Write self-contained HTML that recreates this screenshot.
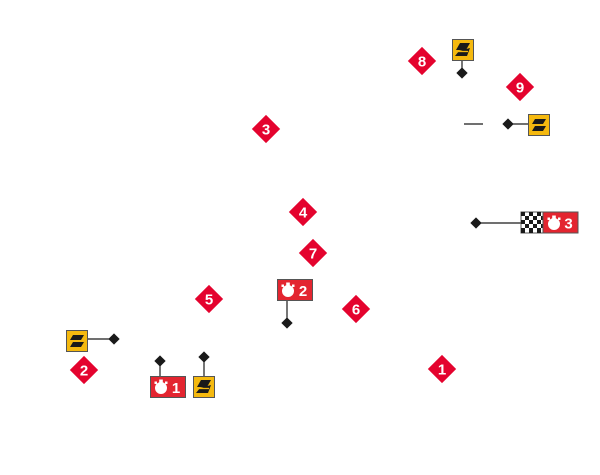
<!DOCTYPE html>
<html><head><meta charset="utf-8"><style>
html,body{margin:0;padding:0;background:#fff;}
svg{display:block}
text{font-family:"Liberation Sans",Arial,sans-serif;font-weight:bold;}
</style></head><body>
<svg width="600" height="475" viewBox="0 0 600 475" xmlns="http://www.w3.org/2000/svg">
<defs>
  <g id="rd">
    <rect x="-10" y="-10" width="20" height="20" fill="#e4032e" transform="rotate(45)"/>
  </g>
  <g id="bd">
    <rect x="-4" y="-4" width="8" height="8" fill="#1a1a1a" transform="rotate(45)"/>
  </g>
  <g id="yA">
    <rect x="0.5" y="0.5" width="21" height="21" fill="#f5b90f" stroke="#555" stroke-width="1"/>
    <polygon points="7,5 18,5 15,10 4,10" fill="#1a1a1a"/>
    <polygon points="7,12 18,12 15,17 4,17" fill="#1a1a1a"/>
  </g>
  <g id="yB">
    <rect x="0.5" y="0.5" width="21" height="21" fill="#f5b90f" stroke="#555" stroke-width="1"/>
    <polygon points="8,4 18,4 14,11 4,11" fill="#1a1a1a"/>
    <polygon points="7,12 18,9 15,17 3,17" fill="#1a1a1a"/>
    <line x1="5" y1="12.5" x2="16" y2="12.5" stroke="#f5b90f" stroke-width="1.3"/>
  </g>
  <g id="sw">
    <circle cx="0" cy="1.5" r="6" fill="#fff"/>
    <rect x="-1.8" y="-7" width="3.6" height="3" fill="#fff"/>
    <rect x="-6.5" y="-5" width="2.5" height="2.5" fill="#fff"/>
    <rect x="4" y="-5" width="2.5" height="2.5" fill="#fff"/>
  </g>
</defs>

<g stroke="#1a1a1a" stroke-width="1.2">
  <line x1="462" y1="61" x2="462" y2="73"/>
  <line x1="508" y1="124" x2="528" y2="124"/>
  <line x1="464" y1="124" x2="483" y2="124"/>
  <line x1="476" y1="223" x2="521" y2="223"/>
  <line x1="88" y1="339" x2="114" y2="339"/>
  <line x1="160" y1="361" x2="160" y2="376"/>
  <line x1="204" y1="357" x2="204" y2="376"/>
  <line x1="287" y1="300" x2="287" y2="323"/>
</g>

<use href="#bd" x="462" y="73"/>
<use href="#bd" x="508" y="124"/>
<use href="#bd" x="476" y="223"/>
<use href="#bd" x="114" y="339"/>
<use href="#bd" x="160" y="361"/>
<use href="#bd" x="204" y="357"/>
<use href="#bd" x="287" y="323"/>

<use href="#yB" x="452" y="39"/>
<use href="#yA" x="528" y="114"/>
<use href="#yA" x="66" y="330"/>
<use href="#yB" x="193" y="376"/>

<g transform="translate(521,212)">
  <rect x="0" y="0" width="22" height="21" fill="#fff" stroke="#555"/>
  <g fill="#1a1a1a">
    <rect x="0" y="0" width="4" height="4"/><rect x="8" y="0" width="4" height="4"/><rect x="16" y="0" width="4" height="4"/>
    <rect x="4" y="4" width="4" height="4"/><rect x="12" y="4" width="4" height="4"/><rect x="20" y="4" width="2" height="4"/>
    <rect x="0" y="8" width="4" height="4"/><rect x="8" y="8" width="4" height="4"/><rect x="16" y="8" width="4" height="4"/>
    <rect x="4" y="12" width="4" height="4"/><rect x="12" y="12" width="4" height="4"/><rect x="20" y="12" width="2" height="4"/>
    <rect x="0" y="16" width="4" height="5"/><rect x="8" y="16" width="4" height="5"/><rect x="16" y="16" width="4" height="5"/>
  </g>
  <rect x="22" y="0" width="35" height="21" fill="#e32530" stroke="#555"/>
  <use href="#sw" x="33" y="10.5"/>
  <text x="47.5" y="16.5" font-size="15" fill="#fff" text-anchor="middle">3</text>
</g>

<g transform="translate(150,376)">
  <rect x="0.5" y="0.5" width="35" height="21" fill="#e32530" stroke="#555"/>
  <use href="#sw" x="11" y="10.5"/>
  <text x="26" y="17" font-size="15" fill="#fff" text-anchor="middle">1</text>
</g>
<g transform="translate(277,279)">
  <rect x="0.5" y="0.5" width="35" height="21" fill="#e32530" stroke="#555"/>
  <use href="#sw" x="11" y="10.5"/>
  <text x="26" y="17" font-size="15" fill="#fff" text-anchor="middle">2</text>
</g>

<g font-size="15" fill="#fff" text-anchor="middle">
  <use href="#rd" x="422" y="61"/><text x="422" y="66.5">8</text>
  <use href="#rd" x="520" y="87"/><text x="520" y="92.5">9</text>
  <use href="#rd" x="266" y="129"/><text x="266" y="134.5">3</text>
  <use href="#rd" x="303" y="212"/><text x="303" y="217.5">4</text>
  <use href="#rd" x="313" y="253"/><text x="313" y="258.5">7</text>
  <use href="#rd" x="209" y="299"/><text x="209" y="304.5">5</text>
  <use href="#rd" x="356" y="309"/><text x="356" y="314.5">6</text>
  <use href="#rd" x="84" y="370"/><text x="84" y="375.5">2</text>
  <use href="#rd" x="442" y="369"/><text x="442" y="374.5">1</text>
</g>
</svg>
</body></html>
